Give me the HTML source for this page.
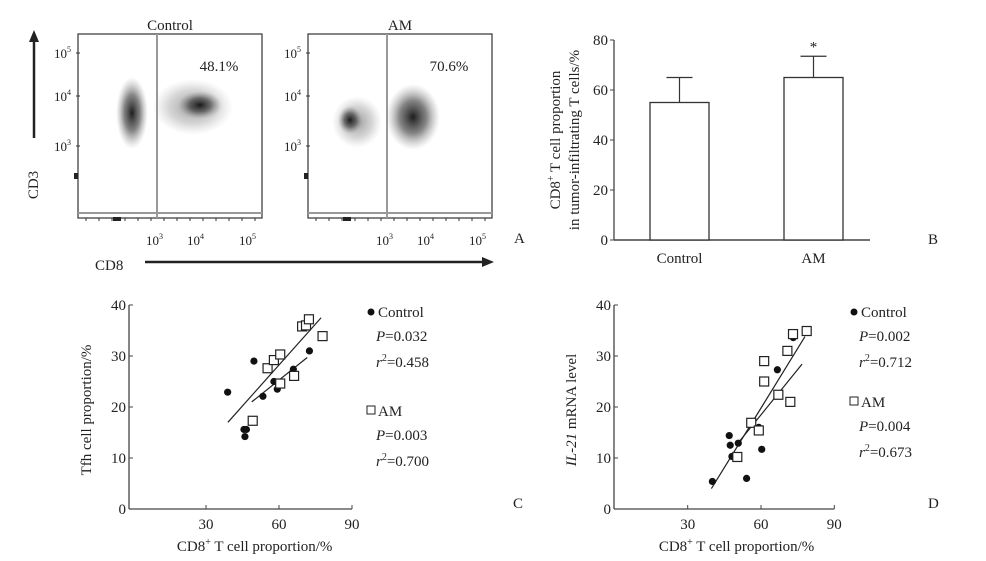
<!DOCTYPE html>
<html><head><meta charset="utf-8"><style>
html,body{margin:0;padding:0;background:#fff}
svg{display:block;font-family:"Liberation Serif",serif;}
text{fill:#222}
</style></head><body>
<svg id="fig" width="986" height="561" viewBox="0 0 986 561" xmlns="http://www.w3.org/2000/svg">
<defs>
<radialGradient id="g1"><stop offset="0" stop-color="#111" stop-opacity="0.95"/><stop offset="0.5" stop-color="#333" stop-opacity="0.6"/><stop offset="1" stop-color="#888" stop-opacity="0"/></radialGradient>
<radialGradient id="g2"><stop offset="0" stop-color="#555" stop-opacity="0.6"/><stop offset="0.6" stop-color="#888" stop-opacity="0.35"/><stop offset="1" stop-color="#aaa" stop-opacity="0"/></radialGradient>
</defs>
<g>
<line x1="34" y1="138" x2="34" y2="40" stroke="#222" stroke-width="2.5"/>
<polygon points="34,30 29,42 39,42" fill="#222"/>
<text x="38" y="185" font-size="15" transform="rotate(-90 38 185)" text-anchor="middle">CD3</text>
<text x="95" y="270" font-size="15">CD8</text>
<line x1="145" y1="262" x2="484" y2="262" stroke="#222" stroke-width="2.5"/>
<polygon points="494,262 482,257 482,267" fill="#222"/>
<text x="514" y="243" font-size="15">A</text>
</g>
<g id="flows"></g>
<g id="panelB"></g>
<g id="panelC"></g>
<g id="panelD"></g>
</svg>
<script>
const NS="http://www.w3.org/2000/svg";
function mk(tag,attrs,parent,txt){const e=document.createElementNS(NS,tag);for(const k in attrs)e.setAttribute(k,attrs[k]);if(txt!==undefined)e.textContent=txt;parent.appendChild(e);return e;}

// ---------- Panel A data ----------
const flowTitles=["Control","AM"];
const flowPercents=["48.1%","70.6%"];
const flowOffsets=[0,230];
const flowClusters=[
 [[132,113,16,36,"g1"],[193,107,40,28,"g2"],[200,105,22,14,"g1"]],
 [[357,122,25,26,"g2"],[350,120,12,14,"g1"],[413,117,27,33,"g1"]]
];
const flows=document.getElementById('flows');
flowTitles.forEach((t,i)=>{
 const o=flowOffsets[i];
 const g=mk('g',{},flows);
 
 
 mk('rect',{x:78+o,y:34,width:184,height:184,fill:'#fff',stroke:'#333','stroke-width':1.2},g);
 flowClusters[i].forEach(c=>{mk('ellipse',{cx:c[0],cy:c[1],rx:c[2],ry:c[3],fill:'url(#'+c[4]+')'},g);});
 mk('line',{x1:157+o,y1:34,x2:157+o,y2:218,stroke:'#999','stroke-width':2},g);
 mk('line',{x1:78+o,y1:213,x2:262+o,y2:213,stroke:'#999','stroke-width':2},g);
 const tt=mk('text',{x:170+o,y:30,'font-size':15,'text-anchor':'middle'},g,t);
 
 
 const pp=mk('text',{x:219+o,y:71,'font-size':15,'text-anchor':'middle'},g,flowPercents[i]);
 
 
 [["5",53],["4",96],["3",146]].forEach(y=>{const tx=mk('text',{x:54+o,y:y[1]+5,'font-size':13},g,'10');mk('tspan',{dy:-6,'font-size':8},tx,y[0]);mk('line',{x1:76+o,y1:y[1],x2:80+o,y2:y[1],stroke:'#333'},g);});
 [["3",155],["4",196],["5",248]].forEach(x=>{const tx=mk('text',{x:x[1]-9+o,y:245,'font-size':13},g,'10');mk('tspan',{dy:-6,'font-size':8},tx,x[0]);});
 for(let k=0;k<14;k++){mk('line',{x1:86+o+k*13,y1:218,x2:86+o+k*13,y2:221,stroke:'#333'},g);}
 mk('rect',{x:113+o,y:217,width:8,height:4,fill:'#222'},g);
 mk('rect',{x:74+o,y:173,width:4,height:6,fill:'#222'},g);
});

// ---------- Panel B data ----------
const barCats=["Control","AM"];
const barVals=[55,65];
const barErr=[10,8.5];
const barTicks=[0,20,40,60,80];
(function(){
 const P=document.getElementById('panelB');
 const y=v=>240-v*2.5;
 const xc=[679.5,813.5];
 mk('line',{x1:614,y1:40,x2:614,y2:240,stroke:'#444','stroke-width':1.3},P);
 mk('line',{x1:614,y1:240,x2:870,y2:240,stroke:'#444','stroke-width':1.5},P);
 barTicks.forEach(t=>{mk('line',{x1:610,y1:y(t),x2:614,y2:y(t),stroke:'#444'},P);mk('text',{x:608,y:y(t)+5,'font-size':15,'text-anchor':'end'},P,t);});
 barCats.forEach((c,i)=>{
  const top=y(barVals[i]+barErr[i]);
  mk('line',{x1:xc[i],y1:y(barVals[i]),x2:xc[i],y2:top,stroke:'#333','stroke-width':1.2},P);
  mk('line',{x1:xc[i]-13,y1:top,x2:xc[i]+13,y2:top,stroke:'#333','stroke-width':1.2},P);
  const r=mk('rect',{x:xc[i]-29.5,y:y(barVals[i]),width:59,height:240-y(barVals[i]),fill:'#fff',stroke:'#333','stroke-width':1.3},P);
  
  
  mk('text',{x:xc[i],y:263,'font-size':15,'text-anchor':'middle'},P,c);
 });
 mk('text',{x:xc[1],y:y(barVals[1]+barErr[1])-5,'font-size':15,'text-anchor':'middle'},P,'*');
 const t1=mk('text',{x:0,y:0,'font-size':15,'text-anchor':'middle',transform:'translate(560 140) rotate(-90)'},P,'CD8');
 mk('tspan',{dy:-6,'font-size':10},t1,'+');
 mk('tspan',{dy:6},t1,' T cell proportion');
 mk('text',{x:0,y:0,'font-size':15,'text-anchor':'middle',transform:'translate(579 140) rotate(-90)'},P,'in tumor-infiltrating T cells/%');
 mk('text',{x:928,y:244,'font-size':15},P,'B');
})();

// ---------- Panel C data ----------
const cCtrlX=[38.9,49.7,45.6,46.6,46.0,53.4,57.9,59.3,65.9,72.5];
const cCtrlY=[22.9,29.0,15.6,15.6,14.2,22.1,25.0,23.5,27.4,31.0];
const cAmX=[49.2,55.3,57.9,60.5,60.5,66.2,69.5,71.1,72.3,77.9];
const cAmY=[17.3,27.6,29.2,30.3,24.6,26.1,35.8,36.0,37.2,33.9];
const cLineAmX=[39,77.3], cLineAmY=[17,37.5];
const cLineCtrlX=[48.8,71.6], cLineCtrlY=[21,29.7];
// ---------- Panel D data ----------
const dCtrlX=[40.1,47.0,47.4,48.1,50.7,54.1,59.1,60.3,66.7,73.2];
const dCtrlY=[5.4,14.4,12.5,10.3,12.9,6.0,16.0,11.7,27.3,33.6];
const dAmX=[50.3,56.0,59.1,61.3,61.3,67.1,70.8,72.0,73.1,78.7];
const dAmY=[10.2,16.9,15.4,25.0,29.0,22.4,31.0,21.0,34.3,34.9];
const dLineAmX=[39.7,78.0], dLineAmY=[4.0,33.8];
const dLineCtrlX=[51.4,76.8], dLineCtrlY=[13.4,28.4];
const scTicksY=[0,10,20,30,40];
const scTicksX=[30,60,90];

function scatter(P,axX,x30,x60,cx,cy,ax,ay,l1x,l1y,l2x,l2y,ytitle,legX,stats,letter,italic){
 const sx=v=>x30+(v-30)*(x60-x30)/30;
 const sy=v=>509-v*5.1;
 mk('line',{x1:axX,y1:305,x2:axX,y2:509,stroke:'#444','stroke-width':1.3},P);
 mk('line',{x1:axX,y1:509,x2:sx(90),y2:509,stroke:'#444','stroke-width':1.3},P);
 scTicksY.forEach(t=>{mk('line',{x1:axX,y1:sy(t),x2:axX+4,y2:sy(t),stroke:'#444'},P);mk('text',{x:axX-3,y:sy(t)+5,'font-size':15,'text-anchor':'end'},P,t);});
 scTicksX.forEach(t=>{mk('line',{x1:sx(t),y1:509,x2:sx(t),y2:505,stroke:'#444'},P);mk('text',{x:sx(t),y:529,'font-size':15,'text-anchor':'middle'},P,t);});
 [[l1x,l1y],[l2x,l2y]].forEach(l=>{mk('line',{x1:sx(l[0][0]),y1:sy(l[1][0]),x2:sx(l[0][1]),y2:sy(l[1][1]),stroke:'#222','stroke-width':1.2},P);});
 cx.forEach((v,i)=>{const c=mk('circle',{cx:sx(v),cy:sy(cy[i]),r:3.6,fill:'#111'},P);
  
  });
 ax.forEach((v,i)=>{const r=mk('rect',{x:sx(v)-4.5,y:sy(ay[i])-4.5,width:9,height:9,fill:'#fff',stroke:'#222','stroke-width':1.2},P);
  
  });
 const yt=mk('text',{x:0,y:0,'font-size':15,'text-anchor':'middle',transform:'translate('+(axX-38)+' 410) rotate(-90)'},P);
 if(italic){mk('tspan',{'font-style':'italic'},yt,'IL-21');mk('tspan',{},yt,' mRNA level');} else yt.textContent=ytitle;
 const xt=mk('text',{x:sx(50),y:551,'font-size':15,'text-anchor':'middle'},P,'CD8');
 mk('tspan',{dy:-6,'font-size':10},xt,'+');
 mk('tspan',{dy:6},xt,' T cell proportion/%');
 const lg=mk('g',{},P);
 
 
 mk('circle',{cx:legX+3,cy:312,r:3.5,fill:'#111'},lg);
 mk('text',{x:legX+10,y:317,'font-size':15},lg,'Control');
 mk('rect',{x:legX-1,y:stats[2]-10,width:8,height:8,fill:'#fff',stroke:'#222'},lg);
 mk('text',{x:legX+10,y:stats[2],'font-size':15},lg,'AM');
 [[stats[0],stats[1],317],[stats[3],stats[4],stats[2]]].forEach(s=>{
  const p=mk('text',{x:legX+8,y:s[2]+24,'font-size':15},lg);mk('tspan',{'font-style':'italic'},p,'P');mk('tspan',{},p,'='+s[0]);
  const r=mk('text',{x:legX+8,y:s[2]+50,'font-size':15},lg);mk('tspan',{'font-style':'italic'},r,'r');mk('tspan',{dy:-6,'font-size':10},r,'2');mk('tspan',{dy:6},r,'='+s[1]);
 });
 mk('text',{x:letter[0],y:letter[1],'font-size':15},P,letter[2]);
}
scatter(document.getElementById('panelC'),129,206,279,cCtrlX,cCtrlY,cAmX,cAmY,cLineAmX,cLineAmY,cLineCtrlX,cLineCtrlY,'Tfh cell proportion/%',368,["0.032","0.458",416,"0.003","0.700"],[513,508,'C'],false);
scatter(document.getElementById('panelD'),614,687.7,761,dCtrlX,dCtrlY,dAmX,dAmY,dLineAmX,dLineAmY,dLineCtrlX,dLineCtrlY,'',851,["0.002","0.712",407,"0.004","0.673"],[928,508,'D'],true);
</script>
</body></html>
